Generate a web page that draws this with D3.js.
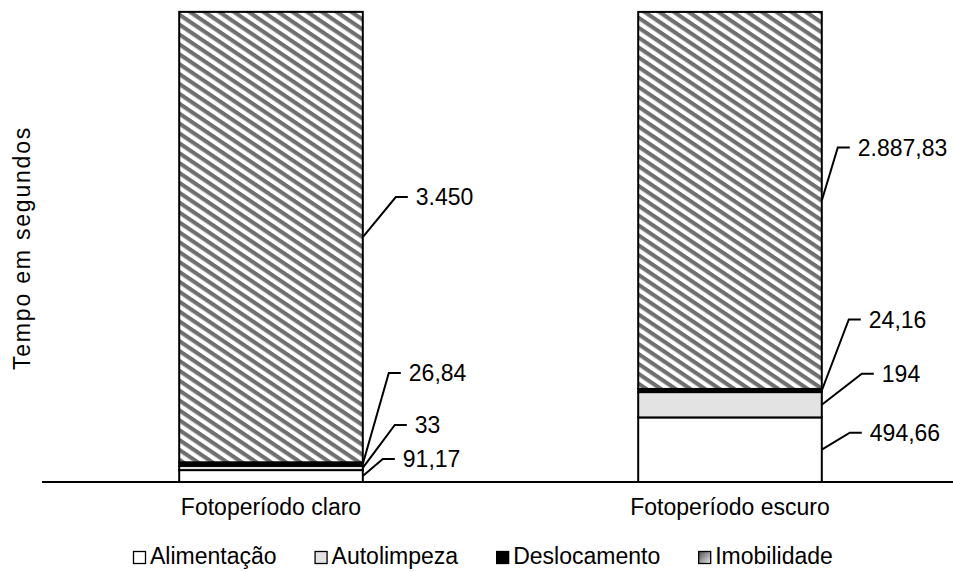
<!DOCTYPE html>
<html>
<head>
<meta charset="utf-8">
<script src="https://cdn.jsdelivr.net/npm/d3@7"></script>
<style>
  html, body { margin: 0; padding: 0; background: #fff; }
  svg { display: block; font-family: "Liberation Sans", Arial, sans-serif; }
</style>
</head>
<body>
<svg id="chart" width="953" height="572"></svg>
<script>
// Tempo (s) gasto em cada comportamento, por fotoperíodo
const categories = ["Fotoperíodo claro", "Fotoperíodo escuro"];
const seriesNames = ["Alimentação", "Autolimpeza", "Deslocamento", "Imobilidade"];
const alimentacao = [91.17, 494.66];
const autolimpeza = [33, 194];
const deslocamento = [26.84, 24.16];
const imobilidade = [3450, 2887.83];
const yMax = 3600;

// Posição do cotovelo de cada linha de chamada, relativa ao ponto de saída na barra
const calloutOffsets = [
  [[20, -17], [32, -43], [26, -91], [33, -40]],
  [[28, -17], [40, -31], [27, -71], [16, -53]]
];

const W = 953, H = 572;
const baseY = 482, topY = 12;
const svg = d3.select("#chart");

const rows = categories.map((c, i) => ({
  cat: c,
  "Alimentação": alimentacao[i],
  "Autolimpeza": autolimpeza[i],
  "Deslocamento": deslocamento[i],
  "Imobilidade": imobilidade[i]
}));
const stacked = d3.stack().keys(seriesNames)(rows);

const x = d3.scaleBand().domain(categories).range([41.5, 959.5])
  .paddingInner(0.6).paddingOuter(0.3);
const y = d3.scaleLinear().domain([0, yMax]).range([baseY, topY]);

const locale = d3.formatLocale({ decimal: ",", thousands: ".", grouping: [3], currency: ["R$", ""] });
const fmt = locale.format(",.2~f");

// Padrão de listras diagonais para "Imobilidade"
const defs = svg.append("defs");
const pat = defs.append("pattern")
  .attr("id", "hatch")
  .attr("patternUnits", "userSpaceOnUse")
  .attr("width", 12).attr("height", 8.2)
  .attr("patternTransform", "rotate(34)");
pat.append("rect").attr("width", 12).attr("height", 8.2).attr("fill", "#ffffff");
pat.append("rect").attr("y", 0).attr("width", 12).attr("height", 4.1).attr("fill", "#6f6f6f");

const grad = defs.append("linearGradient").attr("id", "legendHatch")
  .attr("x1", 0).attr("y1", 0).attr("x2", 1).attr("y2", 1);
grad.append("stop").attr("offset", "0%").attr("stop-color", "#505050");
grad.append("stop").attr("offset", "100%").attr("stop-color", "#e8e8e8");

const fills = {
  "Alimentação": "#ffffff",
  "Autolimpeza": "#e3e3e3",
  "Deslocamento": "#000000",
  "Imobilidade": "url(#hatch)"
};

// Segmentos empilhados
const layers = svg.append("g").selectAll("g")
  .data(stacked).join("g")
  .attr("fill", d => fills[d.key]);
layers.selectAll("rect")
  .data(d => d).join("rect")
  .attr("x", d => x(d.data.cat))
  .attr("width", x.bandwidth())
  .attr("y", d => y(d[1]))
  .attr("height", d => y(d[0]) - y(d[1]))
  .attr("stroke", "#000")
  .attr("stroke-width", 2);

// Eixo horizontal (linha de base e rótulos das categorias)
const xAxis = svg.append("g")
  .attr("transform", `translate(0,${baseY})`)
  .call(d3.axisBottom(x).tickSize(0).tickPadding(17));
xAxis.select(".domain").attr("d", `M42,0H${W}`).attr("stroke", "#000").attr("stroke-width", 2);
xAxis.selectAll(".tick text")
  .attr("font-size", 23).attr("font-family", "\"Liberation Sans\", Arial, sans-serif")
  .attr("fill", "#000");

// Título do eixo vertical
svg.append("text")
  .attr("transform", "translate(30,248) rotate(-90)")
  .attr("text-anchor", "middle")
  .attr("font-size", 23)
  .attr("letter-spacing", 1.8)
  .text("Tempo em segundos");

// Rótulos de valor com linhas de chamada
const callouts = svg.append("g");
stacked.forEach((layer, si) => {
  layer.forEach((d, ci) => {
    const sx = x(d.data.cat) + x.bandwidth();
    const sy = (y(d[0]) + y(d[1])) / 2;
    const [dx, dy] = calloutOffsets[ci][si];
    const ex = sx + dx, ey = sy + dy;
    callouts.append("path")
      .attr("d", `M${sx},${sy}L${ex},${ey}H${ex + 12}`)
      .attr("fill", "none").attr("stroke", "#000").attr("stroke-width", 2);
    callouts.append("text")
      .attr("x", ex + 20).attr("y", ey + 2)
      .attr("dominant-baseline", "middle")
      .attr("font-size", 23)
      .text(fmt(d.data[layer.key]));
  });
});

// Legenda
const legend = svg.append("g").attr("transform", "translate(133,558)");
let lx = 0;
seriesNames.forEach(name => {
  const g = legend.append("g").attr("transform", `translate(${lx},0)`);
  g.append("rect")
    .attr("x", 0.5).attr("y", -6.5).attr("width", 12).attr("height", 12)
    .attr("fill", name === "Imobilidade" ? "url(#legendHatch)" : fills[name])
    .attr("stroke", "#000").attr("stroke-width", 1.3);
  const t = g.append("text")
    .attr("x", 17).attr("y", 0)
    .attr("dominant-baseline", "middle")
    .attr("font-size", 23)
    .text(name);
  lx += 17 + t.node().getComputedTextLength() + 38;
});
</script>
</body>
</html>
